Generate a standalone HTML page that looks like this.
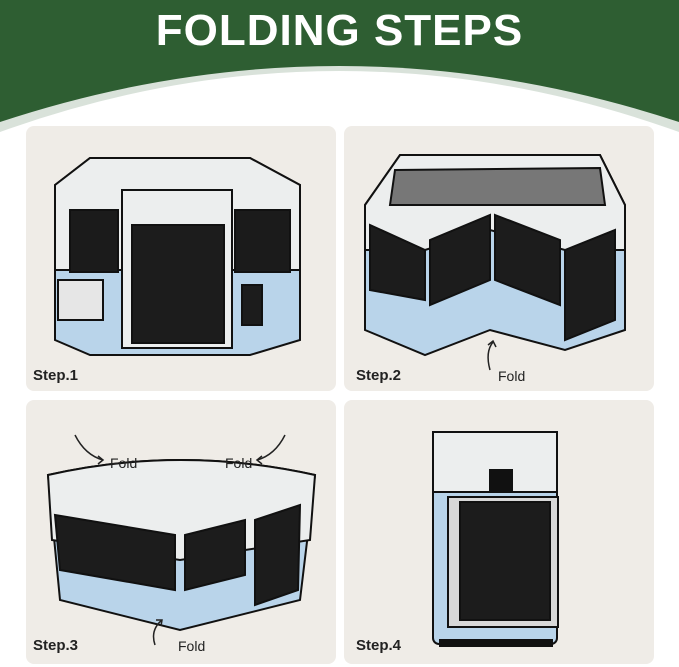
<!DOCTYPE html>
<html><head><meta charset="utf-8"><style>
html,body{margin:0;padding:0;background:#fff}
body{width:679px;height:667px;position:relative;overflow:hidden;font-family:"Liberation Sans",sans-serif}
.t{position:absolute;font-weight:bold;color:#222;font-size:15px}
.f{position:absolute;color:#222;font-size:14px}
</style></head><body>
<svg width="679" height="667" style="position:absolute;left:0;top:0">
<rect x="0" y="0" width="679" height="140" fill="#2e5e32"/>
<path d="M0,150 L0,122 Q339,10 679,122 L679,150 Z" fill="#d9e2da"/>
<path d="M0,160 L0,132 Q339,10 679,132 L679,160 Z" fill="#fff"/>
<rect x="0" y="140" width="679" height="527" fill="#fff"/>
<rect x="26" y="126" width="310" height="265" rx="8" fill="#efece7"/>
<rect x="344" y="126" width="310" height="265" rx="8" fill="#efece7"/>
<rect x="26" y="400" width="310" height="264" rx="8" fill="#efece7"/>
<rect x="344" y="400" width="310" height="264" rx="8" fill="#efece7"/>
<!-- step1 -->
<g stroke="#111" stroke-width="2">
<path d="M55,185 L90,158 L250,158 L300,185 L300,340 L250,355 L90,355 L55,340 Z" fill="#b9d4ea"/>
<path d="M55,185 L90,158 L250,158 L300,185 L300,270 L55,270 Z" fill="#eceeee"/>
<rect x="70" y="210" width="48" height="62" fill="#1b1b1b"/>
<rect x="235" y="210" width="55" height="62" fill="#1b1b1b"/>
<rect x="122" y="190" width="110" height="158" fill="#eceeee"/>
<rect x="132" y="225" width="92" height="118" fill="#1c1c1c"/>
<rect x="58" y="280" width="45" height="40" fill="#e6e6e6"/>
<rect x="242" y="285" width="20" height="40" fill="#1c1c1c"/>
</g>
<!-- step2 -->
<g stroke="#111" stroke-width="2">
<path d="M365,205 L400,155 L600,155 L625,205 L625,330 L565,350 L490,330 L425,355 L365,330 Z" fill="#b9d4ea"/>
<path d="M365,205 L400,155 L600,155 L625,205 L625,250 L565,250 L490,230 L425,250 L365,250 Z" fill="#eceeee"/>
<path d="M395,170 L600,168 L605,205 L390,205 Z" fill="#777"/>
<path d="M370,225 L425,250 L425,300 L370,290 Z" fill="#1c1c1c"/>
<path d="M430,240 L490,215 L490,280 L430,305 Z" fill="#1c1c1c"/>
<path d="M495,215 L560,240 L560,305 L495,280 Z" fill="#1c1c1c"/>
<path d="M565,250 L615,230 L615,320 L565,340 Z" fill="#1c1c1c"/>
</g>
<!-- step3 -->
<g stroke="#111" stroke-width="2">
<path d="M48,475 Q180,445 315,475 L300,600 L180,630 L60,600 Z" fill="#b9d4ea"/>
<path d="M48,475 Q180,445 315,475 L310,540 L180,560 L52,540 Z" fill="#eceeee"/>
<path d="M55,515 L175,535 L175,590 L60,570 Z" fill="#1c1c1c"/>
<path d="M185,535 L245,520 L245,575 L185,590 Z" fill="#1c1c1c"/>
<path d="M255,520 L300,505 L298,590 L255,605 Z" fill="#1c1c1c"/>
</g>
<!-- step4 -->
<g stroke="#111" stroke-width="2">
<rect x="433" y="432" width="124" height="212" rx="6" fill="#b9d4ea"/>
<rect x="433" y="432" width="124" height="60" fill="#eceeee"/>
<rect x="440" y="640" width="112" height="6" fill="#111"/>
<rect x="448" y="497" width="110" height="130" fill="#d8d8d8"/>
<rect x="460" y="502" width="90" height="118" fill="#1c1c1c"/>
<rect x="490" y="470" width="22" height="20" fill="#111"/>
</g>
<g fill="none" stroke="#222" stroke-width="1.5">
<path d="M490,370 Q485,352 493,342"/><path d="M488,345 L493,341 L496,347"/>
<path d="M75,435 Q85,455 103,460"/><path d="M98,456 L103,460 L98,464"/>
<path d="M285,435 Q275,455 257,460"/><path d="M262,456 L257,460 L262,464"/>
<path d="M155,645 Q150,630 162,620"/><path d="M156,620 L162,620 L161,626"/>
</g>
</svg>
<div style="position:absolute;left:0;top:6px;width:679px;text-align:center;color:#fff;font-weight:bold;font-size:44px;letter-spacing:1px">FOLDING STEPS</div>
<div class="t" style="left:33px;top:367px">Step.1</div>
<div class="t" style="left:356px;top:367px">Step.2</div>
<div class="t" style="left:33px;top:637px">Step.3</div>
<div class="t" style="left:356px;top:637px">Step.4</div>
<div class="f" style="left:498px;top:368px">Fold</div>
<div class="f" style="left:110px;top:455px">Fold</div>
<div class="f" style="left:225px;top:455px">Fold</div>
<div class="f" style="left:178px;top:638px">Fold</div>
</body></html>
